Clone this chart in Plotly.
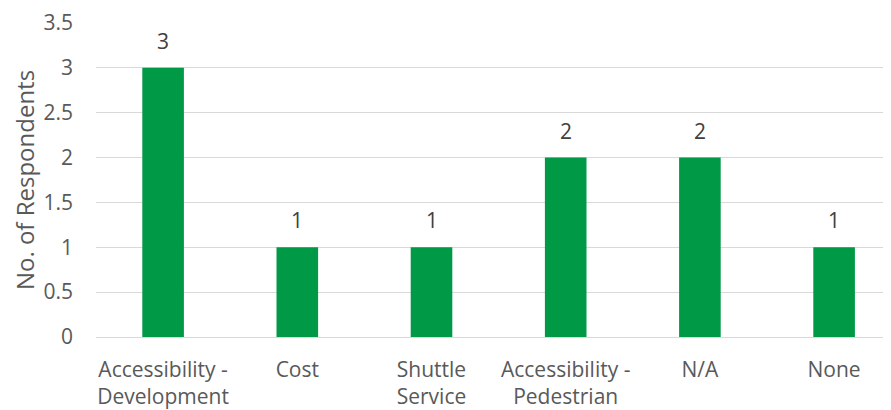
import plotly.graph_objects as go

categories = ["Accessibility -<br>Development", "Cost", "Shuttle<br>Service",
              "Accessibility -<br>Pedestrian", "N/A", "None"]
values = [3, 1, 1, 2, 2, 1]
y_ticks = [0, 0.5, 1, 1.5, 2, 2.5, 3, 3.5]
y_ticklabels = ["0", "0.5", "1", "1.5", "2", "2.5", "3", "3.5"]

FONT = "Open Sans"
GREY = "#595959"
SIZE = 21

xs = list(range(len(categories)))
fig = go.Figure(go.Bar(
    x=xs,
    y=values,
    marker=dict(color="#009946", line=dict(width=0)),
))

for x, v in zip(xs, values):
    fig.add_annotation(x=x, y=v, text=str(v), showarrow=False,
                       yanchor="bottom", yshift=11,
                       font=dict(family=FONT, size=SIZE, color="#404040"))

fig.update_layout(
    width=883, height=402,
    margin=dict(l=88, r=0, t=15, b=73),
    paper_bgcolor="white", plot_bgcolor="white",
    bargap=0.69,
    showlegend=False,
    font=dict(family=FONT, size=SIZE, color=GREY),
)
fig.update_xaxes(
    tickmode="array",
    tickvals=xs,
    ticktext=categories,
    range=[-0.5, 5.424],
    showgrid=False, zeroline=False, showline=False,
    ticks="", ticklabelstandoff=18,
    tickfont=dict(family=FONT, size=SIZE, color=GREY),
    automargin=False,
)
fig.update_yaxes(
    range=[0, 3.5],
    tickmode="array", tickvals=y_ticks, ticktext=y_ticklabels,
    showgrid=True, gridcolor="#D9D9D9", gridwidth=1,
    zeroline=True, zerolinecolor="#D9D9D9", zerolinewidth=1,
    showline=False, ticks="", ticklabelstandoff=22,
    tickfont=dict(family=FONT, size=SIZE, color=GREY),
    title=dict(text="No. of Respondents", standoff=3,
               font=dict(family=FONT, size=24, color=GREY)),
    automargin=False,
)

fig.write_html("out.html")
